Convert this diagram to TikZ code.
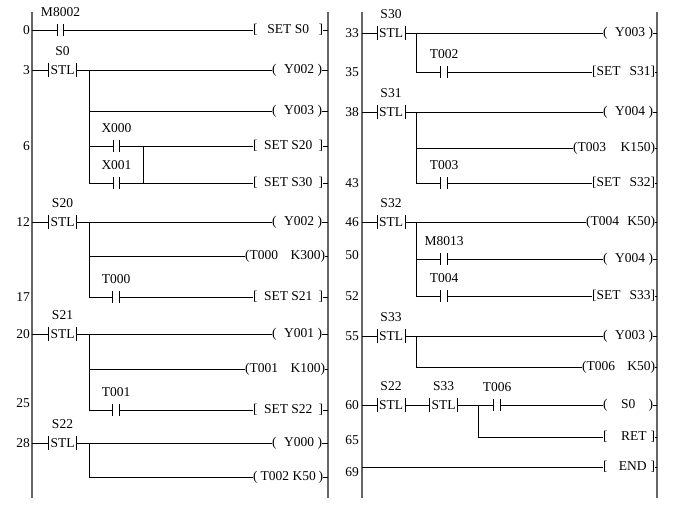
\documentclass[tikz,border=0pt]{standalone}
\usepackage{fontspec}
\setmainfont{Liberation Serif}
\begin{document}
\begin{tikzpicture}[x=1pt, y=-1pt,
		every node/.style={font=\fontsize{13.5}{16}\selectfont, inner sep=0pt},
		label distance=7pt,
		rail/.style={line width=2.2pt, black!60},
		rung/.style={line width=0.8pt},
		contact/.style={minimum width=6.5pt, minimum height=11pt},
		stl/.style={minimum height=14pt, inner xsep=1.8pt, label distance=6pt},
		coil/.style={anchor=west},
		num/.style={anchor=east}]
	\useasboundingbox (0,0) rectangle (675,512);
	\coordinate (LA) at (32,0);
	\coordinate (LB) at (328,0);
	\coordinate (RA) at (362,0);
	\coordinate (RB) at (657,0);
	\foreach \x in {32,328,362,657}
		\draw[rail] (\x,12) -- (\x,498);

	\foreach \t/\y in {0/30,3/70,6/146,12/222,17/297,20/334,25/403,28/443}
		\node[num] (n\t) at (30,\y) {\t};
	\foreach \t/\y in {33/33,35/72,38/112,43/183,46/222,50/255,52/296,55/336,60/405,65/440,69/472}
		\node[num] (n\t) at (359,\y) {\t};

	% left ladder
	\node[contact, label=above:M8002] (c0) at (60.5,30) {};
	\node[coil] (o0) at (253,30) {\makebox[70pt]{[\hfill SET\ S0\hfill]}};
	\draw[rung] (LA |- c0) -- (c0.west) (c0.east) -- (o0.west);

	\node[stl, label=above:S0] (s3) at (62.5,70) {STL};
	\coordinate (b3) at (89,70);
	\node[coil] (o3) at (272,70) {\makebox[50pt]{(\hfill\hfill Y002\hfill)}};
	\node[coil] (o4) at (272,111) {\makebox[50pt]{(\hfill\hfill Y003\hfill)}};
	\node[contact, label=above:X000] (c6) at (116.5,146) {};
	\node[contact, label=above:X001] (c8) at (116.5,183) {};
	\coordinate (j6) at (143,146);
	\node[coil] (o6) at (253,146) {\makebox[70pt]{[\hfill SET\ S20\hfill]}};
	\node[coil] (o8) at (253,183) {\makebox[70pt]{[\hfill SET\ S30\hfill]}};
	\draw[rung] (LA |- s3) -- (s3.west) (s3.east) -- (o3.west)
		(b3) |- (o4.west) (b3) |- (c6.west) (b3) |- (c8.west)
		(c6.east) -- (o6.west) (c8.east) -- (o8.west) (j6) -- (j6 |- c8);

	\node[stl, label=above:S20] (s12) at (62.5,222) {STL};
	\coordinate (b12) at (89,222);
	\node[coil] (o12) at (272,222) {\makebox[50pt]{(\hfill\hfill Y002\hfill)}};
	\node[coil] (o14) at (245,256) {\makebox[80pt]{(T000\hfill K300)}};
	\node[contact, label=above:T000] (c17) at (116,297) {};
	\node[coil] (o17) at (253,297) {\makebox[70pt]{[\hfill SET\ S21\hfill]}};
	\draw[rung] (LA |- s12) -- (s12.west) (s12.east) -- (o12.west)
		(b12) |- (o14.west) (b12) |- (c17.west) (c17.east) -- (o17.west);

	\node[stl, label=above:S21] (s20) at (62.5,334) {STL};
	\coordinate (b20) at (89,334);
	\node[coil] (o20) at (272,334) {\makebox[50pt]{(\hfill\hfill Y001\hfill)}};
	\node[coil] (o22) at (245,369) {\makebox[80pt]{(T001\hfill K100)}};
	\node[contact, label=above:T001] (c25) at (116,410) {};
	\node[coil] (o25) at (253,410) {\makebox[70pt]{[\hfill SET\ S22\hfill]}};
	\draw[rung] (LA |- s20) -- (s20.west) (s20.east) -- (o20.west)
		(b20) |- (o22.west) (b20) |- (c25.west) (c25.east) -- (o25.west);

	\node[stl, label=above:S22] (s28) at (62.5,443) {STL};
	\coordinate (b28) at (89,443);
	\node[coil] (o28) at (272,443) {\makebox[50pt]{(\hfill\hfill Y000\hfill)}};
	\node[coil] (o30) at (253,477) {\makebox[70pt]{(\hfill T002\ K50\hfill)}};
	\draw[rung] (LA |- s28) -- (s28.west) (s28.east) -- (o28.west)
		(b28) |- (o30.west);

	% right ladder
	\node[stl, label=above:S30] (s33) at (391,33) {STL};
	\coordinate (b33) at (416,33);
	\node[coil] (o33) at (603,33) {\makebox[50pt]{(\hfill\hfill Y003\hfill)}};
	\node[contact, label=above:T002] (c35) at (444,72) {};
	\node[coil] (o35) at (592,72) {\makebox[63pt]{[SET\hfill S31]}};
	\draw[rung] (RA |- s33) -- (s33.west) (s33.east) -- (o33.west)
		(b33) |- (c35.west) (c35.east) -- (o35.west);

	\node[stl, label=above:S31] (s38) at (391,112) {STL};
	\coordinate (b38) at (416,112);
	\node[coil] (o38) at (603,112) {\makebox[50pt]{(\hfill\hfill Y004\hfill)}};
	\node[coil] (o40) at (573,148) {\makebox[82pt]{(T003\hfill K150)}};
	\node[contact, label=above:T003] (c43) at (444,183) {};
	\node[coil] (o43) at (592,183) {\makebox[63pt]{[SET\hfill S32]}};
	\draw[rung] (RA |- s38) -- (s38.west) (s38.east) -- (o38.west)
		(b38) |- (o40.west) (b38) |- (c43.west) (c43.east) -- (o43.west);

	\node[stl, label=above:S32] (s46) at (391,222) {STL};
	\coordinate (b46) at (416,222);
	\node[coil] (o46) at (586,222) {\makebox[69pt]{(T004\hfill K50)}};
	\node[contact, label=above:M8013] (c50) at (444,259) {};
	\node[coil] (o50) at (603,259) {\makebox[50pt]{(\hfill\hfill Y004\hfill)}};
	\node[contact, label=above:T004] (c52) at (444,296) {};
	\node[coil] (o52) at (592,296) {\makebox[63pt]{[SET\hfill S33]}};
	\draw[rung] (RA |- s46) -- (s46.west) (s46.east) -- (o46.west)
		(b46) |- (c50.west) (c50.east) -- (o50.west)
		(b46) |- (c52.west) (c52.east) -- (o52.west);

	\node[stl, label=above:S33] (s55) at (391,336) {STL};
	\coordinate (b55) at (416,336);
	\node[coil] (o55) at (603,336) {\makebox[50pt]{(\hfill\hfill Y003\hfill)}};
	\node[coil] (o57) at (582,367) {\makebox[73pt]{(T006\hfill K50)}};
	\draw[rung] (RA |- s55) -- (s55.west) (s55.east) -- (o55.west)
		(b55) |- (o57.west);

	\node[stl, label=above:S22] (s60a) at (391,405) {STL};
	\node[stl, label=above:S33] (s60b) at (443.5,405) {STL};
	\coordinate (j60) at (478,405);
	\node[contact, label=above:T006] (c60) at (497,405) {};
	\node[coil] (o60) at (603,405) {\makebox[50pt]{(\hfill S0\hfill)}};
	\node[coil] (o65) at (603,437) {\makebox[52pt]{[\hfill RET\hspace{4pt}]}};
	\node[coil] (o69) at (603,467) {\makebox[52pt]{[\hfill END\hspace{4pt}]}};
	\draw[rung] (RA |- s60a) -- (s60a.west) (s60a.east) -- (s60b.west)
		(s60b.east) -- (c60.west) (c60.east) -- (o60.west)
		(j60) |- (o65.west) (RA |- o69) -- (o69.west);

	% contact and STL bars, ticks to the right rails
	\foreach \c in {c0,c6,c8,c17,c25,c35,c43,c50,c52,c60}
		\draw[line width=1pt] (\c.north west) -- (\c.south west) (\c.north east) -- (\c.south east);
	\foreach \s in {s3,s12,s20,s28,s33,s38,s46,s55,s60a,s60b}
		\draw[rung] (\s.north west) -- (\s.south west) (\s.north east) -- (\s.south east);
	\foreach \o in {o0,o3,o4,o6,o8,o12,o14,o17,o20,o22,o25,o28,o30}
		\draw[rung] (\o.east) -- (LB |- \o.east);
	\foreach \o in {o33,o35,o38,o40,o43,o46,o50,o52,o55,o57,o60,o65,o69}
		\draw[rung] (\o.east) -- (RB |- \o.east);
\end{tikzpicture}
\end{document}
